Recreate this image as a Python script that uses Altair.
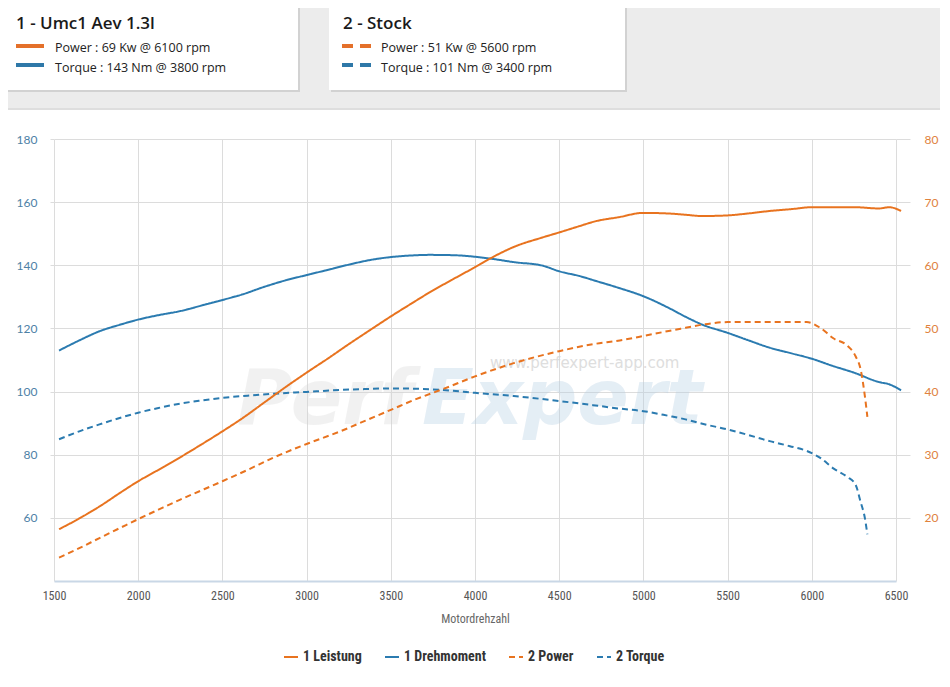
import altair as alt
import pandas as pd

# ---------------- data ----------------
rpm_1 = [1530, 1650, 1770, 1900, 2000, 2120, 2250, 2380, 2500, 2620, 2750, 2880,
         3000, 3130, 3250, 3380, 3500, 3620, 3730, 3870, 4000, 4120, 4230, 4400,
         4500, 4620, 4720, 4850, 5000, 5150, 5250, 5350, 5500, 5620, 5750, 5880,
         6000, 6120, 6250, 6400, 6460, 6530]
torque_1 = [113.0, 116.2, 119.1, 121.3, 122.8, 124.2, 125.5, 127.3, 129.0, 130.8,
            133.2, 135.3, 136.9, 138.6, 140.2, 141.7, 142.6, 143.1, 143.3, 143.2,
            142.7, 141.9, 141.0, 139.9, 138.1, 136.6, 135.0, 132.9, 130.2, 126.5,
            123.7, 121.2, 118.6, 116.3, 113.9, 112.1, 110.4, 108.2, 106.0, 103.0,
            102.3, 100.4]
power_1 = [18.2, 19.9, 21.8, 24.1, 25.8, 27.6, 29.6, 31.7, 33.7, 35.8, 38.3, 40.8,
           43.0, 45.3, 47.5, 49.8, 51.9, 53.9, 55.7, 57.8, 59.7, 61.5, 62.9, 64.4,
           65.2, 66.2, 67.0, 67.6, 68.3, 68.2, 68.0, 67.8, 67.9, 68.2, 68.6, 68.9,
           69.2, 69.2, 69.2, 69.0, 69.2, 68.6]

rpm_2 = [1530, 1650, 1770, 1900, 2000, 2120, 2250, 2380, 2500, 2650, 2800, 3000,
         3200, 3350, 3500, 3650, 3810, 4000, 4230, 4500, 4700, 4860, 5000, 5150,
         5250, 5350, 5500, 5620, 5750, 5870, 5970, 6050, 6130, 6210, 6260, 6290,
         6315, 6330]
torque_2 = [84.9, 87.4, 89.6, 91.8, 93.3, 94.8, 96.2, 97.2, 98.0, 98.7, 99.3, 99.9,
            100.5, 100.8, 101.0, 100.9, 100.5, 99.6, 98.6, 97.0, 95.7, 94.6, 93.8,
            92.3, 91.2, 89.8, 88.0, 86.3, 84.3, 82.7, 81.2, 79.0, 75.6, 73.0, 70.5,
            65.0, 60.0, 54.8]
power_2 = [13.7, 15.2, 16.8, 18.5, 19.8, 21.3, 22.9, 24.4, 25.8, 27.6, 29.5, 31.7,
           33.7, 35.4, 37.1, 38.8, 40.4, 42.4, 44.5, 46.4, 47.5, 48.1, 48.8, 49.6,
           50.1, 50.6, 51.0, 51.0, 51.0, 51.0, 51.0, 50.1, 48.4, 47.3, 45.6, 43.5,
           39.3, 36.0]

series_names = ["1 Leistung", "1 Drehmoment", "2 Power", "2 Torque"]
x_ticks = [1500, 2000, 2500, 3000, 3500, 4000, 4500, 5000, 5500, 6000, 6500]
torque_ticks = [60, 80, 100, 120, 140, 160, 180]
power_ticks = [20, 30, 40, 50, 60, 70, 80]

box1_title = "1 - Umc1 Aev 1.3l"
box1_rows = ["Power : 69 Kw @ 6100 rpm", "Torque : 143 Nm @ 3800 rpm"]
box2_title = "2 - Stock"
box2_rows = ["Power : 51 Kw @ 5600 rpm", "Torque : 101 Nm @ 3400 rpm"]

# ---------------- styling ----------------
ORANGE = "#e8731f"
BLUE = "#2b7bb0"
GRID = "#dcdcdc"
COND = "Liberation Sans Narrow, Roboto Condensed, Liberation Sans"
series_colors = [ORANGE, BLUE, ORANGE, BLUE]
series_dash = [[1, 0], [1, 0], [6, 4], [6, 4]]

torque_df = pd.concat([
    pd.DataFrame({"rpm": rpm_1, "value": torque_1, "series": series_names[1]}),
    pd.DataFrame({"rpm": rpm_2, "value": torque_2, "series": series_names[3]}),
])
power_df = pd.concat([
    pd.DataFrame({"rpm": rpm_1, "value": power_1, "series": series_names[0]}),
    pd.DataFrame({"rpm": rpm_2, "value": power_2, "series": series_names[2]}),
])

x_enc = alt.X(
    "rpm:Q",
    scale=alt.Scale(domain=[1500, 6500], nice=False, zero=False),
    axis=alt.Axis(values=x_ticks, format="d", grid=True, gridColor=GRID, ticks=False,
                  labelFlush=False, domainColor="#c9d7e6", domainWidth=2,
                  labelFont=COND, labelFontSize=12, labelColor="#555555", labelPadding=9,
                  title="Motordrehzahl", titleFont=COND, titleFontSize=12,
                  titleFontWeight="normal", titleColor="#666666", titlePadding=12),
)
legend_def = alt.Legend(orient="none", legendX=229, legendY=510, direction="horizontal",
                        columns=4, title=None, symbolType="stroke", symbolSize=196,
                        symbolStrokeWidth=2, labelFont=COND, labelFontSize=14,
                        labelFontWeight="bold", labelColor="#333333",
                        columnPadding=19, padding=0, labelOffset=4)
color_enc = alt.Color("series:N", scale=alt.Scale(domain=series_names, range=series_colors),
                      legend=legend_def)
dash_enc = alt.StrokeDash("series:N", scale=alt.Scale(domain=series_names, range=series_dash),
                          legend=legend_def)

torque_lines = alt.Chart(torque_df).mark_line(interpolate="monotone", strokeWidth=2).encode(
    x=x_enc,
    y=alt.Y("value:Q", scale=alt.Scale(domain=[40, 180], nice=False, zero=False),
            axis=alt.Axis(orient="left", values=torque_ticks, format="d", grid=True,
                          gridColor=GRID, tickColor=GRID, tickSize=4, domain=False,
                          labelFont="Lato", labelFontSize=12, labelColor="#4d81a6",
                          labelPadding=13, title=None)),
    color=color_enc,
    strokeDash=dash_enc,
    detail="series:N",
)
power_lines = alt.Chart(power_df).mark_line(interpolate="monotone", strokeWidth=2).encode(
    x=x_enc,
    y=alt.Y("value:Q", scale=alt.Scale(domain=[10, 80], nice=False, zero=False),
            axis=alt.Axis(orient="right", values=power_ticks, format="d", grid=False,
                          tickColor=GRID, tickSize=14, domain=False, labelFont="Lato",
                          labelFontSize=12, labelColor="#e0823d", labelPadding=14,
                          title=None)),
    color=color_enc,
    strokeDash=dash_enc,
    detail="series:N",
)

# ---------------- decorations (page chrome) ----------------
OX, OY = 54, 139  # plot origin in page pixels
one = pd.DataFrame({"k": [0]})


def rect(x1, y1, x2, y2, color, opacity=1.0):
    return alt.Chart(one).mark_rect(color=color, opacity=opacity).encode(
        x=alt.value(x1 - OX), x2=alt.value(x2 - OX),
        y=alt.value(y1 - OY), y2=alt.value(y2 - OY))


def text(s, x, y, size, color, font="Open Sans", weight="normal", align="left",
         baseline="middle", style="normal", opacity=1.0):
    return alt.Chart(one).mark_text(
        text=s, font=font, fontSize=size, fontWeight=weight, color=color,
        align=align, baseline=baseline, fontStyle=style, opacity=opacity).encode(
        x=alt.value(x - OX), y=alt.value(y - OY))


def swatch(x1, x2, y, color, dash):
    return alt.Chart(one).mark_rule(color=color, strokeWidth=4, strokeDash=dash).encode(
        x=alt.value(x1 - OX), x2=alt.value(x2 - OX), y=alt.value(y - OY))


deco = [
    rect(0, 0, 960, 109, "#ececec"),
    rect(0, 108, 960, 110, "#dedede"),
    rect(4, 2, 300, 92, "#d2d2d2"),
    rect(2, 0, 298, 90, "#ffffff"),
    rect(331, 2, 627, 92, "#d2d2d2"),
    rect(329, 0, 625, 90, "#ffffff"),
    text(box1_title, 16, 24, 17, "#1a1a1a", weight=600),
    swatch(16, 44, 46, "#e4702a", [1, 0]),
    swatch(16, 44, 65, "#2e78a8", [1, 0]),
    text(box1_rows[0], 55, 48, 12.5, "#222222"),
    text(box1_rows[1], 55, 68, 12.5, "#222222"),
    text(box2_title, 343, 24, 17, "#1a1a1a", weight=600),
    swatch(342, 371, 46, "#e4702a", [11, 7]),
    swatch(342, 371, 65, "#2e78a8", [11, 7]),
    text(box2_rows[0], 381, 48, 12.5, "#222222"),
    text(box2_rows[1], 381, 68, 12.5, "#222222"),
    # watermark
    text("Perf", 237, 424, 76, "#d4d4d4", font="DejaVu Sans", weight="bold",
         baseline="alphabetic", style="italic", opacity=0.3),
    text("Expert", 422, 424, 76, "#b5cfe4", font="DejaVu Sans", weight="bold",
         baseline="alphabetic", style="italic", opacity=0.35),
    text("www.perfexpert-app.com", 490, 363, 15, "#d6d6d6", font="DejaVu Sans",
         opacity=0.8),
]

chart = alt.layer(*deco, torque_lines, power_lines).resolve_scale(
    y="independent"
).properties(
    width=842, height=442,
    padding={"left": 46, "top": 131, "right": 44, "bottom": 90},
    autosize=alt.AutoSizeParams(type="none"),
    background="#ffffff",
).configure_view(stroke=None)

chart.save("out.html", embed_options={"renderer": "svg", "actions": False})
